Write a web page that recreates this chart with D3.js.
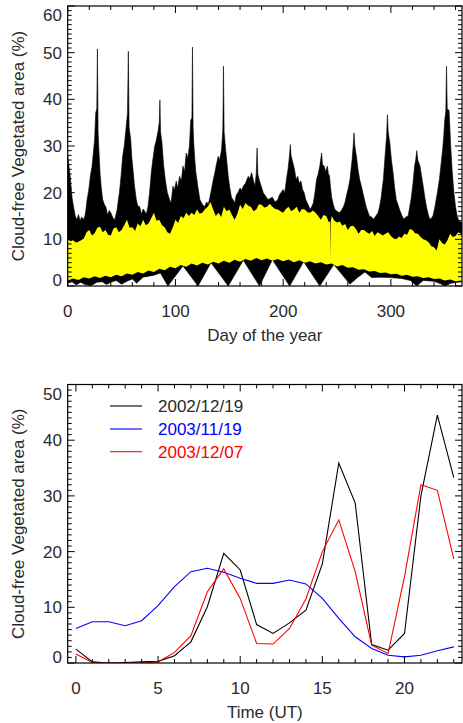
<!DOCTYPE html>
<html><head><meta charset="utf-8">
<script src="https://cdn.jsdelivr.net/npm/d3@7"></script>
<style>
html,body{margin:0;padding:0;background:#fff;}
svg text{font-family:"Liberation Sans",Arial,Helvetica,sans-serif;fill:#2a2a2a;}
</style></head>
<body>
<svg id="c" width="463" height="723"></svg>
<script>
// ---------- DATA: top panel (envelopes, [day, %]) ----------
const blackUpper = [[0,27.8],[1,26],[2.3,23.5],[4,19],[5.4,17],[7,15],[8.5,14.2],[10,15.3],[11.5,14],[13,14.8],[14.5,14.2],[16,15],[17,16.5],[18,18.5],[19.5,20.5],[21,23.5],[22.5,25.5],[23.5,27.8],[25,31.4],[26,37.1],[27,38],[27.6,50.8],[28.2,33],[29,29],[30,24.3],[31.2,21],[32.5,18.5],[34,17.5],[35.6,16.8],[37,15.2],[38.5,16.2],[40,15.7],[42,14.6],[43.7,14.2],[45,15.5],[46,16.5],[47,18.5],[48,20],[49.5,23.5],[51,27.8],[52.5,30],[54,33.5],[55.5,37],[56.3,50.3],[57,34],[58.5,31.4],[59.5,27.5],[60.6,25],[62,21.5],[63.7,18.5],[65,17.2],[66.8,17],[68.5,15.4],[70,16.5],[71.5,16],[73,15.4],[74.5,17],[76,20],[77.6,24.3],[79,27],[80.7,29.9],[82,31],[83.8,33.1],[85,35],[85.6,39.9],[86.2,33],[87.5,30.7],[89,26],[90.6,22.8],[92.5,20],[94.6,18.5],[96,17.8],[97.7,21.4],[99,20.5],[100.8,22.5],[102,21],[103.9,23.5],[105.5,22.5],[107,25.7],[108.5,24.5],[110,28.5],[111.5,27.5],[113,30],[114.2,35.5],[115.3,36],[115.8,51.2],[116.4,34],[117,30.7],[118,27],[119,24.3],[121,21],[122.7,18.5],[125,17.5],[127,17],[129,18],[130.5,17.5],[132,19],[134,21.4],[135.3,23],[136.6,24.3],[138,26],[139.7,27.8],[141,27],[142.8,29.2],[144,33.6],[144.6,47.1],[145.2,33],[146.6,29.2],[148,26],[149,23.5],[150.5,21],[152,19],[153.5,18.5],[155,17.8],[156.5,19.5],[158,20],[160,21],[161.5,20.5],[163,21.4],[165,22],[167.6,23.5],[169,23],[170.7,24.3],[172,23],[173.8,21.4],[175,24],[175.8,29.6],[176.5,24],[177.8,22.7],[179.5,21.5],[181.5,20],[184,19.2],[186,18.5],[188,18.8],[190,19],[192.5,18],[195,18.5],[196.5,19.5],[198,20],[200,20.7],[201.5,20],[203,22.8],[204.5,25],[205.5,27.1],[206.7,30.3],[207.3,28],[209,26.4],[210.5,25],[212,22.8],[213.5,23.5],[215,22],[216.5,22.5],[218,20.7],[219.5,20],[221,18.5],[223,17.5],[225,16.4],[226.5,17],[228,17.8],[229.5,20],[231,22.8],[232.5,24],[234,25.7],[235.7,28.5],[236.5,26],[238,25.7],[239.5,24.5],[241,25.7],[242,24],[243,23.6],[244,21],[245,19],[246.5,17.5],[248,16.4],[250,16],[252,15.7],[254,16.2],[256,17],[257.5,18],[259,19.6],[260.5,21],[262,22.8],[263,25],[264,27.1],[265,30],[265.8,32.8],[266.5,30],[268,27.8],[269.5,25],[271,22.8],[272.5,21.5],[274,20],[275.5,18.5],[277,17],[278.5,16],[280,15],[282,14.8],[284,14.3],[286,15],[288,15.7],[289.5,17],[291,19],[292,21],[293,22.8],[294,26],[295,29.2],[296,32],[296.8,36.7],[297.5,33],[299,30.7],[300.5,27],[302,24.3],[303.5,21],[305,18.5],[306.5,17.5],[308,16.4],[310,15.2],[312,14.3],[314,14.8],[316,15],[317.5,17],[319,19],[320.5,22],[322,25.7],[323,27],[324,29],[325,27],[327,25.7],[328.5,23.5],[330,21.4],[331.5,19],[333,17],[334.5,15.5],[336,14.3],[337.5,14.5],[339,15],[340.5,16.5],[342,18.5],[343.5,20.5],[345,22.8],[346.5,26],[348,29.2],[349,32],[350,35.6],[351,37.5],[351.6,47.1],[352.3,38],[354,37.6],[355.5,30],[357,24.3],[358.5,20],[360,17],[361.5,15],[363,14],[365,13.7],[366,13.5]];

const yellowUpper = [[0,10],[2.5,9.6],[5,9.8],[7.5,9.3],[10,9.5],[12.5,9.8],[15,10.2],[17.5,11.5],[20,12],[22.5,10.8],[25,11.3],[27.5,12.5],[30,12.7],[32.5,11.5],[35,12],[37.5,11],[40,10.8],[42.5,12.3],[45,12.6],[47.5,11.5],[50,12],[52.5,13],[55,14.2],[57.5,12.5],[60,12.6],[62.5,11.8],[65,13.4],[67.5,12.8],[70,14.2],[72.5,13],[75,13.4],[77.5,14.5],[80,15.7],[82.5,14],[85,14.2],[87.5,13],[90,12.6],[92.5,11.5],[95,11.2],[97.5,12.5],[100,14.2],[102.5,13.5],[105,15],[107.5,14.5],[110,15.7],[112.5,15],[115,15.7],[117.5,15.2],[120,16.4],[122.5,15.5],[125,15.7],[127.5,16.5],[130,17],[132.5,18],[135,16.4],[137.5,15],[140,15.7],[142.5,14.8],[145,17],[147.5,16],[150,16.4],[152.5,15.2],[155,14.2],[157.5,15.5],[160,17.4],[162.5,16.5],[165,17.8],[167.5,17.2],[170,17],[172.5,16],[175,16.4],[177.5,17.5],[180,17.4],[182.5,16.8],[185,17],[187.5,17.6],[190,17],[192.5,16.5],[195,16.4],[197.5,16],[200,15.7],[202.5,16.5],[205,17],[207.5,16],[210,16.4],[212.5,17],[215,15.7],[217.5,16.5],[220,16.4],[222.5,15.8],[225,15.7],[227.5,16.2],[230,15.7],[232.5,15],[235,14.2],[237.5,15.2],[240,15],[242.5,13.6],[243.7,14],[244,5.5],[244.3,14],[245,15],[247.5,14],[250,13.6],[252.5,13.8],[255,12.9],[257.5,13.3],[260,12],[262.5,12.8],[265,12.9],[267.5,12.2],[270,11.2],[272.5,12],[275,12],[277.5,11.5],[280,11.2],[282.5,11.8],[285,10.7],[287.5,11.5],[290,11.2],[292.5,10.8],[295,11.2],[297.5,11.5],[300,10.7],[302.5,10.2],[305,10],[307.5,10.6],[310,10.3],[312.5,11.2],[315,11],[317.5,12.2],[320,12],[322.5,11.3],[325,11.2],[327.5,10.5],[330,10],[332.5,9.8],[335,9.4],[337.5,8.5],[340,8.3],[342.5,7.6],[345,10],[347.5,9.2],[350,8.9],[352.5,9.8],[355,11.2],[357.5,10.5],[360,10.7],[362.5,11.5],[365,11.2],[366,11]];

const yellowLower = [[0,1.2],[5,1.6],[10,1.3],[15,1.9],[20,1.6],[25,2.1],[30,1.7],[35,2.2],[40,1.9],[45,2.4],[50,2.1],[55,2.7],[60,2.4],[65,3.0],[70,2.7],[75,3.3],[80,3.0],[85,3.7],[90,3.4],[95,4.1],[100,3.8],[105,4.5],[110,4.1],[115,4.8],[120,4.4],[125,5.0],[130,4.6],[135,5.2],[140,4.8],[145,5.4],[150,5.0],[155,5.6],[160,5.2],[165,5.8],[170,5.4],[175,6.0],[180,5.5],[185,5.9],[190,5.4],[195,5.8],[200,5.3],[205,5.7],[210,5.1],[215,5.5],[220,5.0],[225,5.3],[230,4.8],[235,5.1],[240,4.6],[245,4.8],[250,4.2],[255,4.5],[260,3.9],[265,4.0],[270,3.5],[275,3.6],[280,3.1],[285,3.2],[290,2.8],[295,2.9],[300,2.5],[305,2.6],[310,2.2],[315,2.4],[320,2.0],[325,2.1],[330,1.7],[335,1.9],[340,1.5],[345,1.6],[350,1.2],[355,1.4],[360,1.0],[366,1.1]];

const blackLower = [[0,0.6],[4,0.9],[8,0.2],[12,0.8],[16,0.3],[22,0.1],[27,0.8],[32,0.9],[36,0.3],[40,0.8],[45,1.2],[50,0.4],[55,1.0],[60,1.5],[64,0.6],[70,1.9],[80,2.3],[86,2.8],[93,0],[107,4.3],[121,0],[133,5],[149,0],[163,5.5],[178,0],[190,5.6],[206,0],[219,5.2],[234,0],[247,4.6],[262,0.4],[269,1.8],[276,3],[282,1.8],[290,1.9],[300,1.8],[310,1.6],[318,1.2],[324,0],[330,1.2],[340,1.0],[346,0.5],[350,0],[356,0.6],[362,0.8],[366,0.9]];

const topXTicks = [0,100,200,300];
const topYTicks = [0,10,20,30,40,50,60];

// ---------- DATA: bottom panel (hourly, 0..23 UT) ----------
const hours = d3.range(0,24);
const series = [
  {label:"2002/12/19", color:"#000000",
   values:[2.5,0.2,0,0.1,0.2,0.3,1.3,3.8,10.1,19.7,16.7,6.9,5.3,7.2,9.5,17.8,35.9,28.7,3.3,2.3,5.3,30,44.5,33.3]},
  {label:"2003/11/19", color:"#0000ff",
   values:[6.2,7.4,7.4,6.7,7.6,10.3,13.7,16.4,17.0,16.3,15.2,14.3,14.3,14.9,14.2,11.6,8.0,4.7,2.6,1.4,1.1,1.4,2.2,2.9]},
  {label:"2003/12/07", color:"#ff0000",
   values:[1.6,0.1,0,0,0,0.2,1.9,4.9,12.8,16.9,11.6,3.5,3.4,6.2,11.5,20.0,25.7,16.4,3.2,1.7,15.5,32.0,31.0,18.7]}
];
const botXTicks = [0,5,10,15,20];
const botYTicks = [0,10,20,30,40,50];

// ---------- DRAW ----------
const svg = d3.select("#c");
const L = 67.7, R = 462;
const FS = 17;

function frameAxes(g, x, y, xMajor, xMinorStep, yMajor, yMinorStep, top, bottom) {
  const xd = x.domain(), yd = y.domain();
  const majLen = 7, minLen = 4;
  const tg = g.append("g").attr("stroke","#000").attr("stroke-width",1);
  const xMin = d3.range(Math.ceil(xd[0]/xMinorStep)*xMinorStep, xd[1]+1e-9, xMinorStep);
  xMin.forEach(v => {
    const len = xMajor.includes(v) ? majLen : minLen;
    const px = x(v);
    tg.append("line").attr("x1",px).attr("x2",px).attr("y1",bottom).attr("y2",bottom-len);
    tg.append("line").attr("x1",px).attr("x2",px).attr("y1",top).attr("y2",top+len);
  });
  const yMin = d3.range(Math.ceil(yd[0]/yMinorStep)*yMinorStep, yd[1]+1e-9, yMinorStep);
  yMin.forEach(v => {
    const len = yMajor.includes(v) ? majLen : minLen;
    const py = y(v);
    tg.append("line").attr("y1",py).attr("y2",py).attr("x1",L).attr("x2",L+len);
    tg.append("line").attr("y1",py).attr("y2",py).attr("x1",R).attr("x2",R-len);
  });
  g.append("rect").attr("x",L).attr("y",top).attr("width",R-L).attr("height",bottom-top)
    .attr("fill","none").attr("stroke","#000").attr("stroke-width",1.2);
  xMajor.forEach(v => {
    g.append("text").attr("x",x(v)).attr("y",bottom+31).attr("text-anchor","middle")
      .attr("font-size",FS).text(v);
  });
  yMajor.forEach(v => {
    let cy = Math.min(Math.max(y(v), top+9), bottom-6);
    g.append("text").attr("x",62).attr("y",cy+6).attr("text-anchor","end")
      .attr("font-size",FS).text(v);
  });
}

// ---- top panel ----
const tTop = 6, tBot = 286;
const xT = d3.scaleLinear().domain([0,366]).range([L,R]);
const yT = d3.scaleLinear().domain([0,60]).range([tBot,tTop]);
const gT = svg.append("g");
const defs = svg.append("defs");
defs.append("clipPath").attr("id","clipT")
  .append("rect").attr("x",L).attr("y",tTop).attr("width",R-L).attr("height",tBot-tTop);
const line = d3.line().x(d=>xT(d[0])).y(d=>yT(d[1]));
function band(upper, lower) {
  return line(upper.concat(lower.slice().reverse())) + "Z";
}
const plotT = gT.append("g").attr("clip-path","url(#clipT)");
plotT.append("path").attr("d", band(blackUpper, blackLower)).attr("fill","#000")
  .attr("stroke","#000").attr("stroke-width",0.6);
plotT.append("path").attr("d", band(yellowUpper, yellowLower)).attr("fill","#ffff00");
frameAxes(gT, xT, yT, topXTicks, 20, topYTicks, 1, tTop, tBot);
gT.append("text").attr("x",(L+R)/2).attr("y",341).attr("text-anchor","middle")
  .attr("font-size",FS).text("Day of the year");
gT.append("text").attr("transform",`translate(24,${(tTop+tBot)/2}) rotate(-90)`)
  .attr("text-anchor","middle").attr("font-size",FS).text("Cloud-free Vegetated area (%)");

// ---- bottom panel ----
const bTop = 384.5, bBot = 663;
const xB = d3.scaleLinear().domain([-0.5,23.5]).range([L,R]);
const yB = d3.scaleLinear().domain([0,50]).range([bBot,bTop]);
const gB = svg.append("g");
defs.append("clipPath").attr("id","clipB")
  .append("rect").attr("x",L).attr("y",bTop).attr("width",R-L).attr("height",bBot-bTop);
const plotB = gB.append("g").attr("clip-path","url(#clipB)");
const lineB = d3.line().x((d,i)=>xB(hours[i])).y(d=>yB(d));
series.forEach(s => {
  plotB.append("path").attr("d", lineB(s.values)).attr("fill","none")
    .attr("stroke", s.color).attr("stroke-width",1.1);
});
frameAxes(gB, xB, yB, botXTicks, 1, botYTicks, 1, bTop, bBot);
gB.append("text").attr("x",(L+R)/2).attr("y",718).attr("text-anchor","middle")
  .attr("font-size",FS).text("Time (UT)");
gB.append("text").attr("transform",`translate(24,${(bTop+bBot)/2}) rotate(-90)`)
  .attr("text-anchor","middle").attr("font-size",FS).text("Cloud-free Vegetated area (%)");

// legend
const legY = [406, 429, 451.7];
series.forEach((s,i) => {
  gB.append("line").attr("x1",110).attr("x2",142).attr("y1",legY[i]).attr("y2",legY[i])
    .attr("stroke",s.color).attr("stroke-width",1.1);
  gB.append("text").attr("x",158).attr("y",legY[i]+6).attr("font-size",FS)
    .style("fill", s.color === "#000000" ? "#2a2a2a" : s.color).text(s.label);
});
</script>
</body></html>
